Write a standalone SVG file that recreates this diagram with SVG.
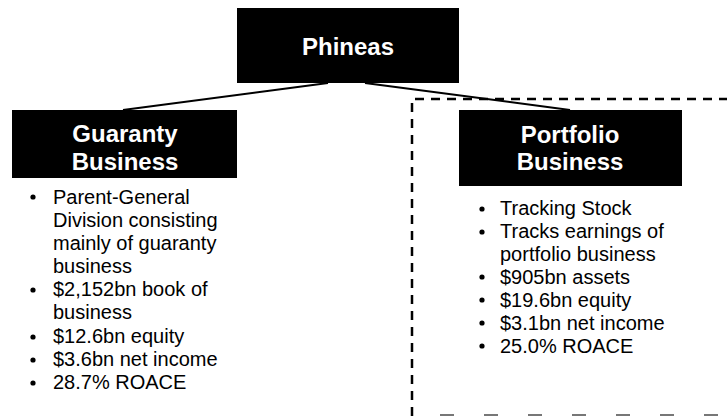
<svg xmlns="http://www.w3.org/2000/svg" width="727" height="416" viewBox="0 0 727 416">
<style>
.box{fill:#000}
.hd{font-family:"Liberation Sans",Arial,sans-serif;font-weight:bold;font-size:24px;fill:#fff;text-anchor:middle}
.tx{font-family:"Liberation Sans",Arial,sans-serif;font-size:20px;fill:#000}
.conn{stroke:#000;stroke-width:2;fill:none}
.dash{stroke:#000;stroke-width:2.5;fill:none;stroke-dasharray:9 7}
</style>
<rect width="727" height="416" fill="#fff"/>
<g id="connectors">
<line class="conn" x1="328" y1="83" x2="123" y2="110"/>
<line class="conn" x1="365" y1="83" x2="570" y2="110"/>
</g>
<g id="portfolio-region">
<path class="dash" d="M412,416 V99 H727"/>
<line x1="440" y1="415" x2="727" y2="415" stroke="#777" stroke-width="2" stroke-dasharray="14 30"/>
</g>
<g id="phineas">
<rect class="box" x="237" y="8" width="222" height="75"/>
<text class="hd" x="348" y="55">Phineas</text>
</g>
<g id="guaranty">
<rect class="box" x="12" y="110" width="225" height="68"/>
<text class="hd" x="125" y="142">Guaranty</text>
<text class="hd" x="125" y="170">Business</text>
</g>
<g id="portfolio">
<rect class="box" x="459" y="110" width="223" height="76"/>
<text class="hd" x="570" y="143">Portfolio</text>
<text class="hd" x="570" y="170">Business</text>
</g>
<g id="guaranty-bullets">
<g fill="#000">
<circle cx="33" cy="197" r="2.6"/>
<circle cx="33" cy="290" r="2.6"/>
<circle cx="33" cy="337" r="2.6"/>
<circle cx="33" cy="360" r="2.6"/>
<circle cx="33" cy="383" r="2.6"/>
</g>
<text class="tx" x="53" y="204">Parent-General</text>
<text class="tx" x="53" y="227">Division consisting</text>
<text class="tx" x="53" y="250">mainly of guaranty</text>
<text class="tx" x="53" y="273">business</text>
<text class="tx" x="53" y="296">$2,152bn book of</text>
<text class="tx" x="53" y="319">business</text>
<text class="tx" x="53" y="343">$12.6bn equity</text>
<text class="tx" x="53" y="366">$3.6bn net income</text>
<text class="tx" x="53" y="389">28.7% ROACE</text>
</g>
<g id="portfolio-bullets">
<g fill="#000">
<circle cx="482" cy="209" r="2.6"/>
<circle cx="482" cy="232" r="2.6"/>
<circle cx="482" cy="277" r="2.6"/>
<circle cx="482" cy="300" r="2.6"/>
<circle cx="482" cy="323" r="2.6"/>
<circle cx="482" cy="346" r="2.6"/>
</g>
<text class="tx" x="500" y="215">Tracking Stock</text>
<text class="tx" x="500" y="238">Tracks earnings of</text>
<text class="tx" x="500" y="261">portfolio business</text>
<text class="tx" x="500" y="284">$905bn assets</text>
<text class="tx" x="500" y="307">$19.6bn equity</text>
<text class="tx" x="500" y="330">$3.1bn net income</text>
<text class="tx" x="500" y="353">25.0% ROACE</text>
</g>
</svg>
